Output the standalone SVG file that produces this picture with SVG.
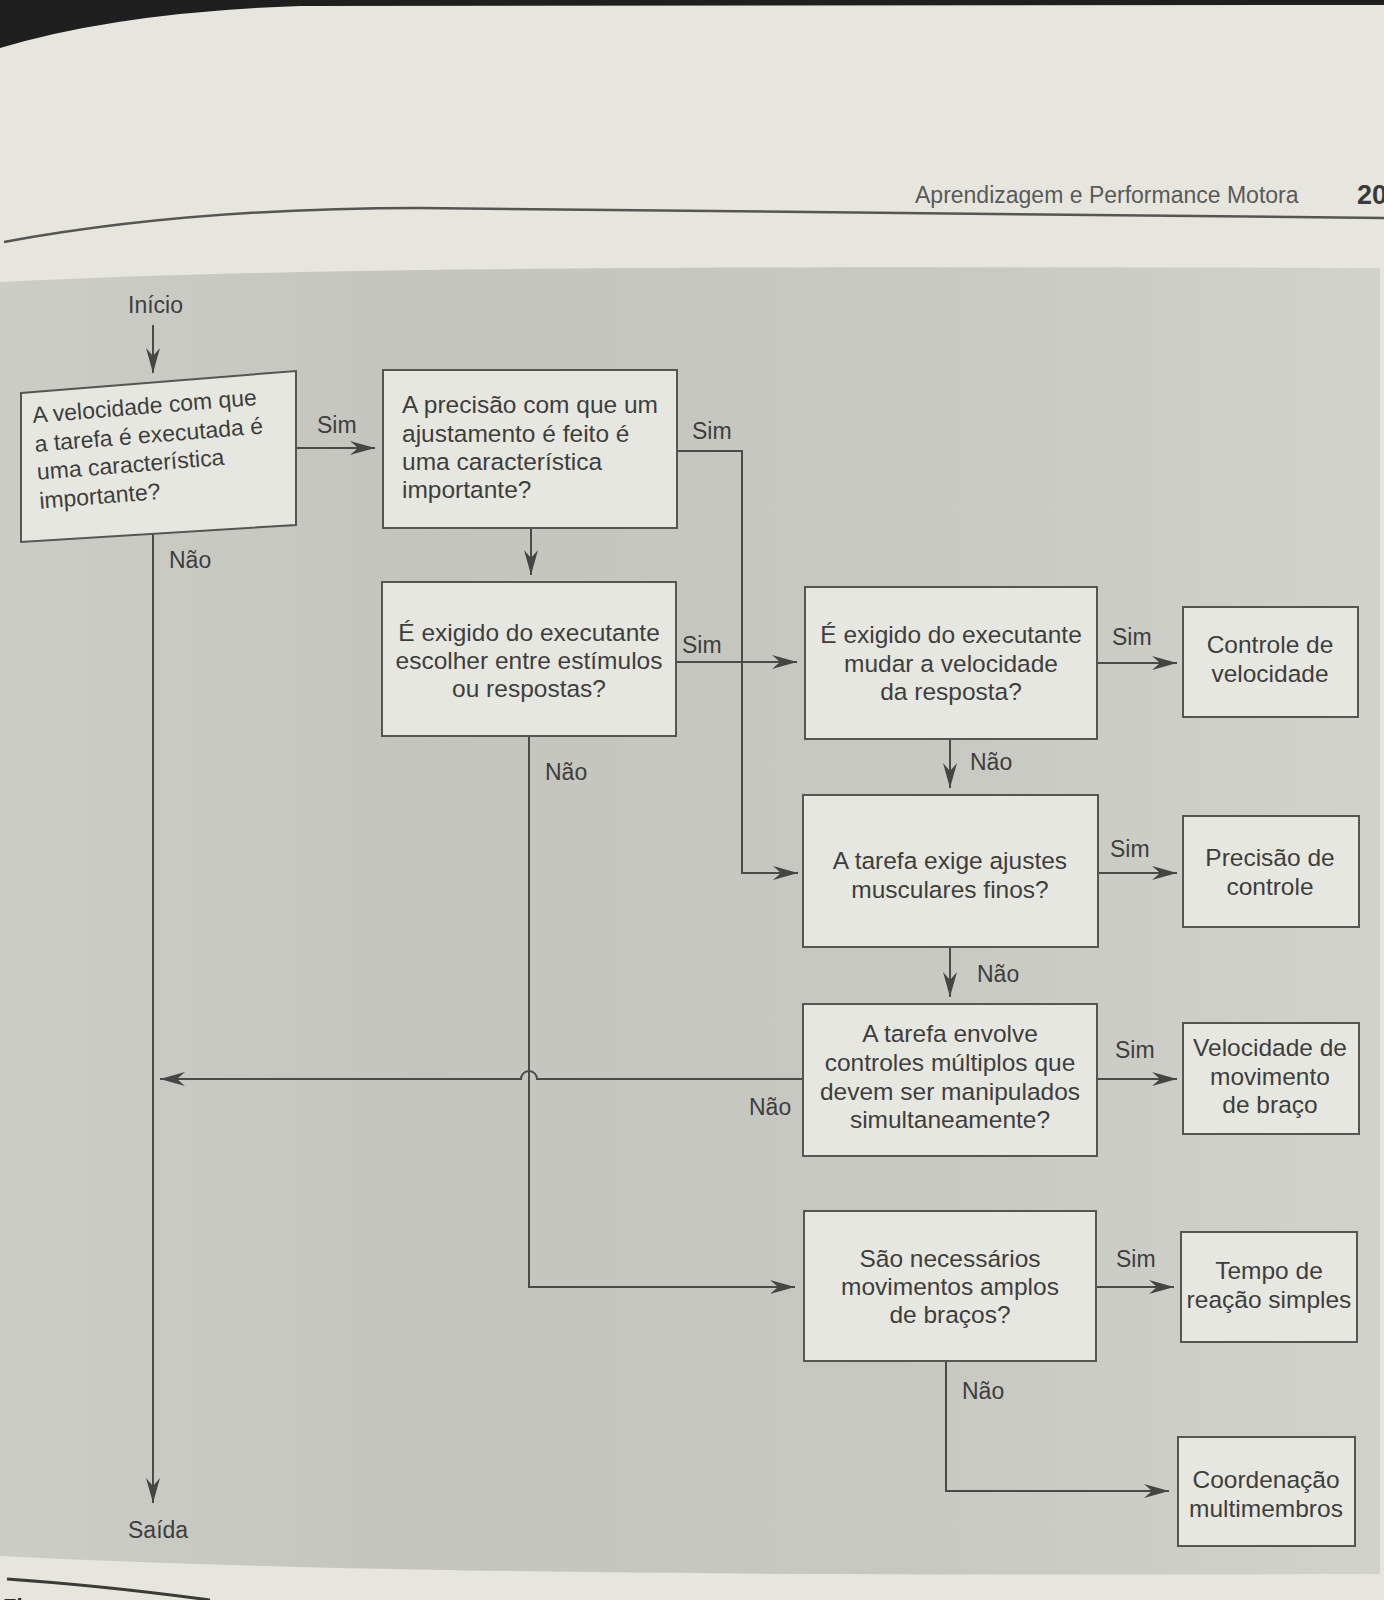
<svg xmlns="http://www.w3.org/2000/svg" width="1384" height="1600" viewBox="0 0 1384 1600">
<defs>
<linearGradient id="panel" x1="0" y1="0" x2="1" y2="0">
<stop offset="0" stop-color="#cdcdc8"/>
<stop offset="0.3" stop-color="#c5c5c0"/>
<stop offset="0.65" stop-color="#c8c8c3"/>
<stop offset="1" stop-color="#d2d2cd"/>
</linearGradient>
<marker id="ah" viewBox="-26 -8 27 16" markerWidth="27" markerHeight="16" refX="0" refY="0" orient="auto" markerUnits="userSpaceOnUse">
<path d="M0,0 L-25,-7 L-17,0 L-25,7 Z" fill="#454543"/>
</marker>
<style>
.box{fill:#e7e7e1;stroke:#555552;stroke-width:2}
.t{font-family:"Liberation Sans",Arial,sans-serif;font-size:24.5px;fill:#3e3e3c}
.c{text-anchor:middle}
.lbl{font-family:"Liberation Sans",Arial,sans-serif;font-size:23px;fill:#3e3e3c}
.ln{fill:none;stroke:#4a4a48;stroke-width:2}
.ar{marker-end:url(#ah)}
</style>
</defs>
<rect x="0" y="0" width="1384" height="1600" fill="#e6e6df"/>
<path d="M0,0 L1384,0 L1384,5 L300,6 Q120,12 0,48 Z" fill="#1e1f1e"/>
<path d="M4,242 C150,215 300,208 420,208 C700,208 1000,217 1384,218" fill="none" stroke="#555553" stroke-width="2.5"/>
<text x="915" y="203" style="font-family:'Liberation Sans',Arial,sans-serif;font-size:23px;fill:#5a5a58">Aprendizagem e Performance Motora</text>
<text x="1357" y="204" style="font-family:'Liberation Sans',Arial,sans-serif;font-size:27px;font-weight:bold;fill:#3a3a38">20</text>
<path d="M0,282 C300,268 600,266 1380,268 L1380,1574 C900,1575 400,1576 0,1556 Z" fill="url(#panel)"/>
<path d="M7,1579 C80,1584 150,1592 210,1600" fill="none" stroke="#3a3a38" stroke-width="3"/>
<text x="3" y="1614" style="font-family:'Liberation Sans',Arial,sans-serif;font-size:22px;font-weight:bold;fill:#2e2e2c">Figura</text>

<g id="connectors">
<path class="ln ar" d="M153,325 V373"/>
<path class="ln ar" d="M296,448 H375"/>
<path class="ln ar" d="M531,528 V575"/>
<path class="ln ar" d="M677,451 H742 V873 H798"/>
<path class="ln ar" d="M676,662 H797"/>
<path class="ln ar" d="M1097,663 H1177"/>
<path class="ln ar" d="M950,739 V788"/>
<path class="ln ar" d="M1098,873 H1177"/>
<path class="ln ar" d="M950,947 V997"/>
<path class="ln ar" d="M1097,1079 H1177"/>
<path class="ln ar" d="M803,1079 H537 A8,8 0 0 0 521,1079 H160"/>
<path class="ln ar" d="M153,534 V1503"/>
<path class="ln ar" d="M529,736 V1287 H795"/>
<path class="ln ar" d="M1096,1287 H1174"/>
<path class="ln ar" d="M946,1361 V1491 H1169"/>
<text class="lbl" x="128" y="313">Início</text>
<text class="lbl" x="317" y="433">Sim</text>
<text class="lbl" x="692" y="439">Sim</text>
<text class="lbl" x="169" y="568">Não</text>
<text class="lbl" x="682" y="653">Sim</text>
<text class="lbl" x="1112" y="645">Sim</text>
<text class="lbl" x="970" y="770">Não</text>
<text class="lbl" x="545" y="780">Não</text>
<text class="lbl" x="1110" y="857">Sim</text>
<text class="lbl" x="977" y="982">Não</text>
<text class="lbl" x="1115" y="1058">Sim</text>
<text class="lbl" x="749" y="1115">Não</text>
<text class="lbl" x="1116" y="1267">Sim</text>
<text class="lbl" x="962" y="1399">Não</text>
<text class="lbl" x="128" y="1538">Saída</text>
</g>

<g id="n1">
<polygon class="box" points="21,393 296,371 296,525 21,542"/>
<g transform="rotate(-4.6 33 423)" class="t" style="font-size:23px">
<text x="33" y="423">A velocidade com que</text>
<text x="33" y="452">a tarefa é executada é</text>
<text x="33" y="480">uma característica</text>
<text x="33" y="509">importante?</text>
</g>
</g>

<g id="n2">
<rect class="box" x="383" y="370" width="294" height="158"/>
<text class="t" x="402" y="413">A precisão com que um</text>
<text class="t" x="402" y="442">ajustamento é feito é</text>
<text class="t" x="402" y="470">uma característica</text>
<text class="t" x="402" y="498">importante?</text>
</g>

<g id="n3">
<rect class="box" x="382" y="582" width="294" height="154"/>
<text class="t c" x="529" y="641">É exigido do executante</text>
<text class="t c" x="529" y="669">escolher entre estímulos</text>
<text class="t c" x="529" y="697">ou respostas?</text>
</g>

<g id="n4">
<rect class="box" x="805" y="587" width="292" height="152"/>
<text class="t c" x="951" y="643">É exigido do executante</text>
<text class="t c" x="951" y="672">mudar a velocidade</text>
<text class="t c" x="951" y="700">da resposta?</text>
</g>

<g id="n5">
<rect class="box" x="803" y="795" width="295" height="152"/>
<text class="t c" x="950" y="869">A tarefa exige ajustes</text>
<text class="t c" x="950" y="898">musculares finos?</text>
</g>

<g id="n6">
<rect class="box" x="803" y="1004" width="294" height="152"/>
<text class="t c" x="950" y="1042">A tarefa envolve</text>
<text class="t c" x="950" y="1071">controles múltiplos que</text>
<text class="t c" x="950" y="1100">devem ser manipulados</text>
<text class="t c" x="950" y="1128">simultaneamente?</text>
</g>

<g id="n7">
<rect class="box" x="804" y="1211" width="292" height="150"/>
<text class="t c" x="950" y="1267">São necessários</text>
<text class="t c" x="950" y="1295">movimentos amplos</text>
<text class="t c" x="950" y="1323">de braços?</text>
</g>

<g id="r1">
<rect class="box" x="1183" y="607" width="175" height="110"/>
<text class="t c" x="1270" y="653">Controle de</text>
<text class="t c" x="1270" y="682">velocidade</text>
</g>

<g id="r2">
<rect class="box" x="1183" y="816" width="176" height="111"/>
<text class="t c" x="1270" y="866">Precisão de</text>
<text class="t c" x="1270" y="895">controle</text>
</g>

<g id="r3">
<rect class="box" x="1183" y="1023" width="176" height="111"/>
<text class="t c" x="1270" y="1056">Velocidade de</text>
<text class="t c" x="1270" y="1085">movimento</text>
<text class="t c" x="1270" y="1113">de braço</text>
</g>

<g id="r4">
<rect class="box" x="1181" y="1232" width="176" height="110"/>
<text class="t c" x="1269" y="1279">Tempo de</text>
<text class="t c" x="1269" y="1308">reação simples</text>
</g>

<g id="r5">
<rect class="box" x="1178" y="1437" width="177" height="109"/>
<text class="t c" x="1266" y="1488">Coordenação</text>
<text class="t c" x="1266" y="1517">multimembros</text>
</g>
</svg>
